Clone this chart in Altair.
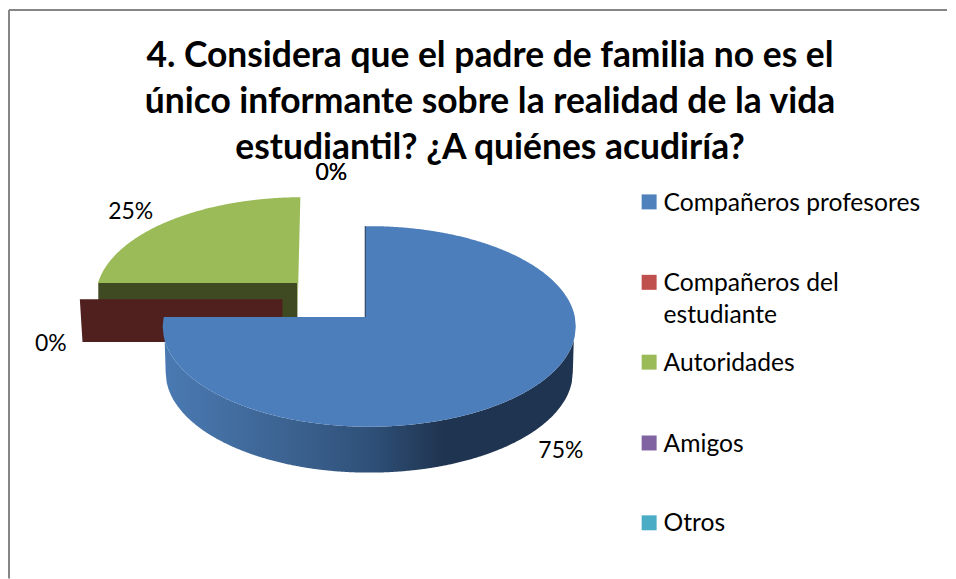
import math
import altair as alt
import pandas as pd

# ---------- values ----------
categories = ["Compañeros profesores", "Compañeros del\nestudiante", "Autoridades", "Amigos", "Otros"]
shares = [0.75, 0.0, 0.25, 0.0, 0.0]
colors = ["#4f81bd", "#c0504d", "#9bbb59", "#8064a2", "#4bacc6"]
title_lines = [
    "4. Considera que el padre de familia no es el",
    "único informante sobre la realidad de la vida",
    "estudiantil? ¿A quiénes acudiría?",
]

# ---------- layout (screen pixels) ----------
W, H = 940, 571
FONT = "Lato"
label_x = [561, 50, 130, 331, 331]
label_y = [458, 351, 219, 180, 180]
legend_y = [201.7, 282.3, 362.3, 443.3, 523.3]

A, B, DEPTH = 207, 100.5, 46
BLUE_C = (369, 326.5)
GREEN_C = (302, 297.5)


def upper(x, c, a=A, b=B):
    return c[1] - b * math.sqrt(max(0, 1 - ((x - c[0]) / a) ** 2))


def lower(x, c, a=A, b=B):
    return c[1] + b * math.sqrt(max(0, 1 - ((x - c[0]) / a) ** 2))


rows = []


def add(name, color, pts):
    for i, (x, y, y2) in enumerate(pts):
        rows.append(dict(part=name, tone=color, i=i, px=x, top=y, bot=y2))


# dark cut face of the exploded green slice
add("green_side", "#3f4a22", [(97.5, 283, 320), (297, 283, 320)])

# green top face (its sweep comes from its share)
green_start = math.radians((shares[0] + shares[1]) * 360 + 8.3)
green_corner_y = GREEN_C[1] - B * math.cos(green_start)
green_left = GREEN_C[0] + A * math.sin(green_start)
pts = []
x = green_left
while x < 297:
    pts.append((x, upper(x, GREEN_C), green_corner_y))
    x += 1
pts.append((297, upper(297, GREEN_C), green_corner_y))
pts.append((297.01, upper(297, GREEN_C), 317))
pts.append((300, upper(300, GREEN_C), upper(300, GREEN_C)))
add("green_top", "#9bbb59", pts)

# dark cut face of the zero-share red slice
add("red_side", "#4f201e", [(79, 299.3, 299.3), (81.7, 299.3, 342), (282, 299.3, 342)])

# blue rim
RIM_C = (369, BLUE_C[1] + DEPTH)
RIM_A = 204
pts = []
x = 162
while x <= 576:
    t = lower(x, BLUE_C)
    b = lower(x, RIM_C, a=RIM_A) if abs(x - RIM_C[0]) <= RIM_A else t
    pts.append((x, t, b))
    x += 1
add("rim", "#1f3450", pts)

# blue top face (its sweep comes from its share)
blue_end = math.radians(shares[0] * 360 + 5.4)
corner_y = BLUE_C[1] - B * math.cos(blue_end)
corner_x = 365
pts = []
x = 162
while x <= corner_x:
    pts.append((x, max(corner_y, upper(x, BLUE_C)), lower(x, BLUE_C)))
    x += 1
pts.append((corner_x + 0.01, upper(corner_x, BLUE_C), lower(corner_x, BLUE_C)))
x = corner_x + 1
while x <= 576:
    pts.append((x, upper(x, BLUE_C), lower(x, BLUE_C)))
    x += 1
add("blue_top", "#4c7ebb", pts)

df = pd.DataFrame(rows)

# ---------- shared scales ----------
X = dict(scale=alt.Scale(domain=[8, 8 + W], range=[0, W]), axis=None)
Y = dict(scale=alt.Scale(domain=[8, 8 + H], range=[0, H]), axis=None)

rim_gradient = alt.LinearGradient(
    gradient="linear", x1=0, y1=0, x2=1, y2=0,
    stops=[
        alt.GradientStop(offset=0.0, color="#4a7ab3"),
        alt.GradientStop(offset=0.3, color="#3c6391"),
        alt.GradientStop(offset=0.5, color="#2f5179"),
        alt.GradientStop(offset=0.68, color="#1f3450"),
        alt.GradientStop(offset=1.0, color="#1f3450"),
    ],
)


def faces(name, fill=None):
    d = df[df["part"] == name]
    return (
        alt.Chart(d)
        .mark_area(color=fill if fill is not None else d["tone"].iloc[0], line=False)
        .encode(
            x=alt.X("px:Q", **X),
            y=alt.Y("top:Q", stack=None, **Y),
            y2="bot:Q",
        )
    )


edge = (
    alt.Chart(pd.DataFrame([dict(px=365, top=upper(365, BLUE_C), bot=corner_y)]))
    .mark_rule(color="#1f3450", strokeWidth=1)
    .encode(x=alt.X("px:Q", **X), y=alt.Y("top:Q", **Y), y2="bot:Q")
)

frame = pd.DataFrame([
    dict(px=8, px2=8 + W, top=9.5, bot=9.5),
    dict(px=8, px2=8, top=9.5, bot=8 + H),
])
frame_layer = (
    alt.Chart(frame)
    .mark_rule(color="#868686", strokeWidth=2)
    .encode(x=alt.X("px:Q", **X), x2="px2:Q", y=alt.Y("top:Q", **Y), y2="bot:Q")
)

cat = pd.DataFrame(dict(
    cat=categories,
    share=shares,
    color=colors,
    label_x=label_x,
    label_y=label_y,
    legend_y=legend_y,
    text_y=[v + 8.7 for v in legend_y],
    sx=[649.5] * 5,
    tx=[664] * 5,
))

labels = (
    alt.Chart(cat)
    .transform_calculate(txt="format(datum.share, '.0%')")
    .mark_text(font=FONT, fontSize=23, color="#000000", align="center", baseline="alphabetic")
    .encode(x=alt.X("label_x:Q", **X), y=alt.Y("label_y:Q", **Y), text="txt:N")
)

swatches = (
    alt.Chart(cat)
    .mark_point(shape="square", filled=True, size=225, opacity=1)
    .encode(
        x=alt.X("sx:Q", **X),
        y=alt.Y("legend_y:Q", **Y),
        color=alt.Color("color:N", scale=None),
    )
)

legend_text = (
    alt.Chart(cat)
    .mark_text(font=FONT, fontSize=24.7, color="#000000", align="left", baseline="alphabetic",
               lineBreak="\n", lineHeight=32)
    .encode(x=alt.X("tx:Q", **X), y=alt.Y("text_y:Q", **Y), text="cat:N")
)

chart = (
    alt.layer(
        frame_layer,
        faces("green_side"),
        faces("green_top"),
        faces("red_side"),
        faces("rim", rim_gradient),
        faces("blue_top"),
        edge,
        labels,
        swatches,
        legend_text,
    )
    .properties(
        width=W,
        height=H,
        padding=0,
        background="#ffffff",
        title=alt.TitleParams(
            text=title_lines,
            font=FONT,
            fontSize=35.5,
            fontWeight="bold",
            color="#000000",
            anchor="middle",
            dx=12,
            offset=-158,
            lineHeight=46,
        ),
    )
    .configure_view(stroke=None)
)

chart.save("out.html", embed_options={"renderer": "svg", "actions": False})
